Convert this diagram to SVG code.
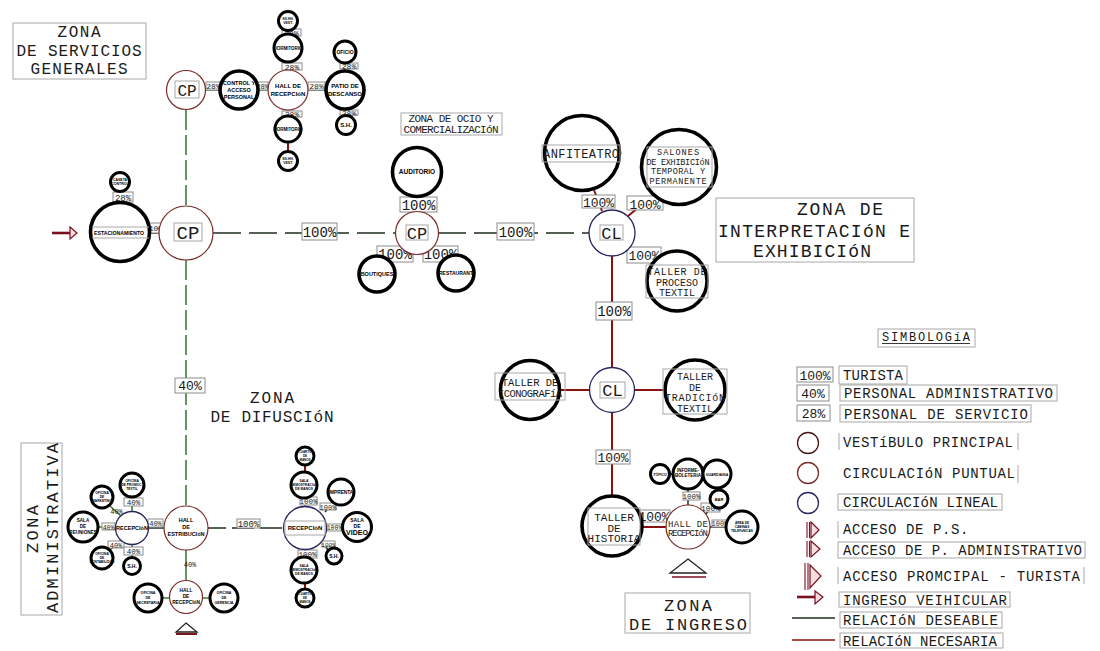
<svg xmlns="http://www.w3.org/2000/svg" width="1100" height="651" viewBox="0 0 1100 651">
<style>
.f{font-family:"Liberation Mono","DejaVu Sans Mono",monospace;fill:#1a1a1a}
.s{font-family:"Liberation Sans",Arial,sans-serif;font-weight:bold;fill:#000;text-anchor:middle}
.m{text-anchor:middle}
.bx{fill:none;stroke:#a8a8a8;stroke-width:1}
.pb{fill:#fff;stroke:#8c8c8c;stroke-width:1}
.tk{fill:#fff;stroke:#000;stroke-width:3.6}
.ts{fill:#fff;stroke:#000;stroke-width:3}
.cp{fill:#fff;stroke:#7b2a2a;stroke-width:1.2}
.cl{fill:#fff;stroke:#26265e;stroke-width:1.3}
.g{fill:none;stroke:#3a7d3a;stroke-width:1.6}
.r{fill:none;stroke:#8b1010;stroke-width:2}
.k{fill:none;stroke:#1c2e1c;stroke-width:1.5}
.d{stroke-dasharray:28,8}
.dg{stroke-dasharray:20,5}
.acc{fill:#f6dde3;stroke:#7a1020;stroke-width:1.2}
.tri{fill:#fff;stroke:#222;stroke-width:1.3}
</style>

<!-- zone labels -->
<g id="zona-servicios">
<rect class="bx" x="13" y="23" width="133" height="56"/>
<text class="f m" x="79" y="37" font-size="16" textLength="43">ZONA</text>
<text class="f m" x="79" y="56" font-size="16" textLength="125">DE SERVICIOS</text>
<text class="f m" x="79" y="74" font-size="16" textLength="97">GENERALES</text>
</g>
<g id="zona-ocio">
<rect class="bx" x="401" y="113" width="101" height="22"/>
<text class="f m" x="451" y="122" font-size="11" textLength="85">ZONA DE OCIO Y</text>
<text class="f m" x="451" y="133" font-size="11" textLength="95">COMERCIALIZACIóN</text>
</g>
<g id="zona-interpretacion">
<rect class="bx" x="716" y="198" width="198" height="64"/>
<text class="f m" x="840" y="215" font-size="18" textLength="86">ZONA DE</text>
<text class="f m" x="814" y="237" font-size="18" textLength="192">INTERPRETACIóN E</text>
<text class="f m" x="812" y="257" font-size="18" textLength="118">EXHIBICIóN</text>
</g>
<g id="zona-difusion">
<text class="f m" x="272" y="403" font-size="16" textLength="44">ZONA</text>
<text class="f m" x="272" y="422" font-size="16" textLength="123">DE DIFUSCIóN</text>
</g>
<g id="zona-administrativa">
<rect class="bx" x="21" y="443" width="41" height="172"/>
<text class="f m" transform="translate(38,529) rotate(-90)" font-size="17" textLength="48">ZONA</text>
<text class="f m" transform="translate(58,528) rotate(-90)" font-size="17" textLength="170">ADMINISTRATIVA</text>
</g>
<g id="zona-ingreso">
<rect class="bx" x="625" y="593" width="125" height="40"/>
<text class="f m" x="688" y="611" font-size="17" textLength="48">ZONA</text>
<text class="f m" x="688" y="630" font-size="17" textLength="118">DE INGRESO</text>
</g>

<!-- connectors -->
<g id="connectors">
<path class="g dg" d="M186 110V205"/>
<path class="g dg" d="M186 260V506"/>
<path class="g" d="M206 90H219M259 90H268M308 90H326M288 70V62M288 110V116M345 71V63M345 110V116"/>
<path class="g" d="M186 550V580M162 598H169M203 598H210M132 512V497M121 516L110 506M121 540L110 550M132 545V558M98 527H115"/>
<path class="k" d="M148 528H164"/>
<path class="r" d="M120 191V202M288 31V34M288 142V151"/>
<path class="r" d="M602 211L594 190M628 216L655 194M629 248L653 264M612 256V368M612 413V496M560 390H590M635 390H665M643 527H666M669 474H673M305 465V472M305 583V589"/>
<path class="k" d="M150 233H159M417 197V212M405 251L390 260M430 251L443 259"/>
<path class="k d" d="M213 233H395M438 233H589"/>
<path class="k" d="M208 528H226M232 528H283" stroke-dasharray="22,6"/>
<path class="k" d="M327 527H343M325 512L332 504M323 543L328 550M305 549V557M688 490V505M706 514L712 506M710 527H726"/>
<path class="g" d="M305 498V506"/>
<path d="M52 233H70" stroke="#7a1020" stroke-width="2.6" fill="none"/>
<polygon class="acc" points="70,227 77,233 70,239"/>
<!-- labels -->
<g class="f m">
<rect class="pb" x="206" y="82" width="15" height="8"/><text x="213.5" y="89" font-size="8">28%</text>
<rect class="pb" x="257" y="82" width="11" height="8"/><text x="262.5" y="89" font-size="7">28%</text>
<rect class="pb" x="308" y="82" width="17" height="8"/><text x="316.5" y="89" font-size="8">28%</text>
<rect class="pb" x="282" y="29" width="19" height="7"/><text x="291.5" y="35.5" font-size="8">28%</text>
<rect class="pb" x="282" y="63" width="20" height="7"/><text x="292" y="69.5" font-size="8">28%</text>
<rect class="pb" x="282" y="111" width="20" height="6"/><text x="292" y="117" font-size="8">28%</text>
<rect class="pb" x="340" y="63" width="18" height="6"/><text x="349" y="69" font-size="8">28%</text>
<rect class="pb" x="340" y="110" width="18" height="5"/><text x="349" y="115.5" font-size="8">28%</text>
<rect class="pb" x="113" y="192" width="20" height="10"/><text x="123" y="200.5" font-size="9">28%</text>
<rect class="pb" x="147" y="223" width="21" height="10"/><text x="158" y="231" font-size="8" textLength="18">100%</text>
<rect class="pb" x="302" y="223" width="35" height="17"/><text x="319.5" y="237" font-size="14">100%</text>
<rect class="pb" x="497" y="223" width="37" height="17"/><text x="515.5" y="237" font-size="14">100%</text>
<rect class="pb" x="400" y="197" width="37" height="15"/><text x="418.5" y="210" font-size="14">100%</text>
<rect class="pb" x="377" y="246" width="36" height="16"/><text x="395" y="259" font-size="14">100%</text>
<rect class="pb" x="423" y="246" width="35" height="16"/><text x="440.5" y="259" font-size="14">100%</text>
<rect class="pb" x="582" y="195" width="33" height="13"/><text x="598.5" y="207" font-size="13">100%</text>
<rect class="pb" x="627" y="196" width="36" height="14"/><text x="645" y="208.5" font-size="13">100%</text>
<rect class="pb" x="627" y="247" width="34" height="16"/><text x="644" y="260" font-size="13">100%</text>
<rect class="pb" x="596" y="302" width="36" height="18"/><text x="614" y="316" font-size="14">100%</text>
<rect class="pb" x="596" y="450" width="34" height="14"/><text x="613" y="462" font-size="13">100%</text>
<rect class="pb" x="638" y="510" width="32" height="12"/><text x="654" y="521" font-size="13">100%</text>
<rect class="pb" x="683" y="492" width="17" height="8"/><text x="691.5" y="499" font-size="7.5">100%</text>
<rect class="pb" x="701" y="503" width="19" height="9"/><text x="710.5" y="510.5" font-size="8">100%</text>
<rect class="pb" x="712" y="520" width="16" height="7"/><text x="720" y="526" font-size="7">100%</text>
<rect class="pb" x="175" y="378" width="30" height="15"/><text x="190" y="390" font-size="13">40%</text>
<rect class="pb" x="124" y="498" width="19" height="8"/><text x="133.5" y="505" font-size="7.5">40%</text>
<text x="116.5" y="514" font-size="7">40%</text>
<rect class="pb" x="102" y="523" width="13" height="7"/><text x="108.5" y="529.5" font-size="6.5">40%</text>
<rect class="pb" x="148" y="519" width="15" height="8"/><text x="155.5" y="526" font-size="7">40%</text>
<rect class="pb" x="108" y="541" width="16" height="7"/><text x="116" y="547.5" font-size="7">40%</text>
<rect class="pb" x="124" y="547" width="19" height="8"/><text x="133.5" y="554" font-size="7.5">40%</text>
<text x="190" y="567" font-size="7">40%</text>
<rect class="pb" x="237" y="519" width="23" height="9"/><text x="248.5" y="527" font-size="9">100%</text>
<rect class="pb" x="300" y="497" width="17" height="8"/><text x="308.5" y="504" font-size="7.5">100%</text>
<rect class="pb" x="320" y="503" width="16" height="7"/><text x="328" y="509.5" font-size="7">100%</text>
<rect class="pb" x="327" y="524" width="15" height="7"/><text x="334.5" y="530" font-size="6.5">100%</text>
<rect class="pb" x="322" y="541" width="13" height="6"/><text x="328.5" y="546.5" font-size="6">100%</text>
<rect class="pb" x="298" y="550" width="19" height="8"/><text x="307.5" y="557" font-size="7.5">100%</text>
</g>
</g>

<!-- services cluster -->
<g id="cp-servicios"><circle class="cp" cx="186" cy="90" r="19.5"/><rect class="bx" x="175" y="81" width="24" height="17"/><text class="f m" x="187" y="96" font-size="16">CP</text></g>
<g id="control-acceso"><circle class="tk" cx="239" cy="90" r="19"/><text class="s" font-size="5.5"><tspan x="239" y="85">CONTROL Y</tspan><tspan x="239" y="92">ACCESO</tspan><tspan x="239" y="99">PERSONAL</tspan></text></g>
<g id="hall-servicios"><circle class="cp" cx="288" cy="90" r="20"/><text class="s" font-size="6"><tspan x="288" y="88">HALL DE</tspan><tspan x="288" y="96">RECEPCIóN</tspan></text></g>
<g id="patio-descanso"><circle class="tk" cx="345" cy="90" r="19"/><text class="s" font-size="6"><tspan x="345" y="88">PATIO DE</tspan><tspan x="345" y="96">DESCANSO</tspan></text></g>
<g id="dormitorio-1"><circle class="ts" cx="288" cy="48" r="14"/><text class="s" x="288" y="50" font-size="4.5">DORMITORIO</text></g>
<g id="ss-1"><circle class="ts" cx="288" cy="21" r="9.5"/><text class="s" font-size="3.5"><tspan x="288" y="20">SS.HH.</tspan><tspan x="288" y="24">VEST.</tspan></text></g>
<g id="dormitorio-2"><circle class="ts" cx="288" cy="129" r="13"/><text class="s" x="288" y="131" font-size="4.5">DORMITORIO</text></g>
<g id="ss-2"><circle class="ts" cx="288" cy="161" r="9.5"/><text class="s" font-size="3.5"><tspan x="288" y="160">SS.HH.</tspan><tspan x="288" y="164">VEST.</tspan></text></g>
<g id="oficio"><circle class="ts" cx="345" cy="52" r="11"/><text class="s" x="345" y="54" font-size="5">OFICIO</text></g>
<g id="sh-servicios"><circle class="ts" cx="346" cy="125" r="9.5"/><text class="s" x="346" y="127" font-size="6">S.H.</text></g>

<!-- estacionamiento -->
<g id="caseta"><circle class="ts" cx="120" cy="182" r="9.5"/><text class="s" font-size="3.5"><tspan x="120" y="181">CASETA</tspan><tspan x="120" y="185">CONTROL</tspan></text></g>
<g id="estacionamiento"><circle class="tk" cx="120" cy="232" r="29.5"/><path class="bx" d="M92 227H149M92 238H149"/><text class="s" x="119" y="235" font-size="6" textLength="50" lengthAdjust="spacingAndGlyphs">ESTACIONAMIENTO</text></g>
<g id="cp-principal"><circle class="cp" cx="186" cy="233" r="27"/><rect class="bx" x="174" y="223" width="28" height="18"/><text class="f m" x="188" y="239" font-size="19">CP</text></g>

<!-- ocio -->
<g id="cp-ocio"><circle class="cp" cx="417" cy="233" r="21.5"/><rect class="bx" x="406" y="225" width="22" height="15"/><text class="f m" x="417" y="239" font-size="17">CP</text></g>
<g id="auditorio"><circle class="tk" cx="417" cy="172" r="24.5"/><text class="s" x="417" y="174" font-size="6.5">AUDITORIO</text></g>
<g id="boutiques"><circle class="tk" cx="377" cy="274" r="18"/><text class="s" x="377" y="276" font-size="5.5">BOUTIQUES</text></g>
<g id="restaurant"><circle class="tk" cx="456" cy="273" r="18"/><text class="s" x="456" y="275" font-size="5">RESTAURANT</text></g>

<!-- interpretacion -->
<g id="cl-interpretacion"><circle class="cl" cx="612" cy="233" r="23"/><rect class="bx" x="600" y="225" width="23" height="15"/><text class="f m" x="611.5" y="239" font-size="17">CL</text></g>
<g id="anfiteatro"><circle class="tk" cx="582" cy="153" r="37.5"/><rect class="bx" x="542" y="145" width="78" height="17"/><text class="f m" x="581" y="158" font-size="12" textLength="76">ANFITEATRO</text></g>
<g id="salones"><circle class="tk" cx="679" cy="167" r="37.5"/><rect class="bx" x="647" y="147" width="65" height="40"/><text class="f m" font-size="8.5"><tspan x="678" y="155" textLength="42">SALONES</tspan><tspan x="678" y="164.5" textLength="63">DE EXHIBICIóN</tspan><tspan x="678" y="174" textLength="54">TEMPORAL Y</tspan><tspan x="678" y="183.5" textLength="57">PERMANENTE</tspan></text></g>
<g id="taller-proceso"><circle class="tk" cx="677" cy="281" r="30"/><rect class="bx" x="646" y="265" width="62" height="33"/><text class="f m" font-size="10"><tspan x="677" y="275" textLength="59">TALLER DE</tspan><tspan x="677" y="285.5">PROCESO</tspan><tspan x="677" y="296">TEXTIL</tspan></text></g>
<g id="cl-talleres"><circle class="cl" cx="612" cy="390" r="22.5"/><rect class="bx" x="600" y="382" width="25" height="16"/><text class="f m" x="612.5" y="396" font-size="17">CL</text></g>
<g id="taller-iconografia"><circle class="tk" cx="530" cy="390" r="29.5"/><rect class="bx" x="495" y="373" width="70" height="27"/><text class="f m" font-size="10.5"><tspan x="530" y="386">TALLER DE</tspan><tspan x="530" y="397" textLength="64">ICONOGRAFíA</tspan></text></g>
<g id="taller-tradicion"><circle class="tk" cx="695" cy="390" r="30"/><rect class="bx" x="663" y="369" width="64" height="45"/><text class="f m" font-size="10"><tspan x="695" y="380">TALLER</tspan><tspan x="695" y="390.5">DE</tspan><tspan x="695" y="401" textLength="60">TRADICIóN</tspan><tspan x="695" y="411.5">TEXTIL</tspan></text></g>

<!-- ingreso -->
<g id="taller-historia"><circle class="tk" cx="612" cy="526" r="30"/><rect class="bx" x="588" y="508" width="52" height="37"/><text class="f m" font-size="11"><tspan x="614" y="521">TALLER</tspan><tspan x="614" y="531.5">DE</tspan><tspan x="614" y="542">HISTORIA</tspan></text></g>
<g id="hall-ingreso"><circle class="cp" cx="688" cy="527" r="22"/><text class="f m" font-size="9"><tspan x="688" y="527" textLength="40">HALL DE</tspan><tspan x="688" y="536" textLength="40">RECEPCIóN</tspan></text></g>
<g id="informes"><circle class="ts" cx="688" cy="474" r="15"/><text class="s" font-size="4.5"><tspan x="688" y="472">INFORME-</tspan><tspan x="688" y="477">BOLETERíA</tspan></text></g>
<g id="topico"><circle class="ts" cx="660" cy="474" r="9.5"/><text class="s" x="660" y="475.5" font-size="3.5">TÓPICO</text></g>
<g id="guardiania"><circle class="ts" cx="717" cy="474" r="14"/><text class="s" x="717" y="475.5" font-size="3.5">GUARDIANíA</text></g>
<g id="bar"><circle class="ts" cx="719" cy="499" r="9"/><text class="s" x="719" y="500.5" font-size="4">BAR</text></g>
<g id="area-espera"><circle class="ts" cx="742" cy="527" r="16"/><text class="s" font-size="3.2"><tspan x="742" y="524">ÁREA DE</tspan><tspan x="742" y="528">CABINAS</tspan><tspan x="742" y="532">TELEFóNICAS</tspan></text></g>
<g id="acceso-turista"><polygon class="tri" points="688,559 706,573 670,573"/><path d="M672 577H706" stroke="#7a1020" stroke-width="1.5"/></g>

<!-- administrativa -->
<g id="hall-estribucion"><circle class="cp" cx="186" cy="528" r="22"/><text class="s" font-size="5.5"><tspan x="186" y="522">HALL</tspan><tspan x="186" y="529">DE</tspan><tspan x="186" y="536">ESTRIBUCIóN</tspan></text></g>
<g id="recepcion-admin"><circle class="cl" cx="132" cy="528" r="16.5"/><text class="s" x="132" y="530" font-size="5.5">RECEPCIóN</text></g>
<g id="sala-reuniones"><circle class="ts" cx="83" cy="527" r="15"/><text class="s" font-size="4.6"><tspan x="83" y="522">SALA</tspan><tspan x="83" y="528">DE</tspan><tspan x="83" y="534">REUNIONES</tspan></text></g>
<g id="oficina-1"><circle class="ts" cx="132" cy="485" r="12"/><text class="s" font-size="3.3"><tspan x="132" y="482">OFICINA</tspan><tspan x="132" y="486">DE PROMOC.</tspan><tspan x="132" y="490">TEXTIL</tspan></text></g>
<g id="oficina-2"><circle class="ts" cx="102" cy="497" r="11"/><text class="s" font-size="3.3"><tspan x="102" y="494">OFICINA</tspan><tspan x="102" y="498">DE</tspan><tspan x="102" y="502">MARKETING</tspan></text></g>
<g id="oficina-3"><circle class="ts" cx="102" cy="558" r="11"/><text class="s" font-size="3.3"><tspan x="102" y="555">OFICINA</tspan><tspan x="102" y="559">DE</tspan><tspan x="102" y="563">CONTABILIDAD</tspan></text></g>
<g id="sh-admin"><circle class="ts" cx="132" cy="566" r="8.5"/><text class="s" x="132" y="568" font-size="5">S.H.</text></g>
<g id="hall-recepcion-admin"><circle class="cp" cx="186" cy="597" r="16.5"/><text class="s" font-size="4.8"><tspan x="186" y="592">HALL</tspan><tspan x="186" y="598">DE</tspan><tspan x="186" y="604">RECEPCIóN</tspan></text></g>
<g id="oficina-secretaria"><circle class="ts" cx="148" cy="598" r="14"/><text class="s" font-size="3.6"><tspan x="148" y="594">OFICINA</tspan><tspan x="148" y="599">DE</tspan><tspan x="148" y="604">SECRETARíA</tspan></text></g>
<g id="oficina-gerencia"><circle class="ts" cx="224" cy="598" r="14"/><text class="s" font-size="3.6"><tspan x="224" y="594">OFICINA</tspan><tspan x="224" y="599">DE</tspan><tspan x="224" y="604">GERENCIA</tspan></text></g>
<g id="acceso-admin"><polygon class="tri" points="186,623 197,632 176,632"/><path d="M176 634H197" stroke="#7a1020" stroke-width="2"/></g>

<!-- difusion -->
<g id="recepcion-difusion"><circle class="cl" cx="305" cy="528" r="21.5"/><rect class="bx" x="285" y="521" width="40" height="14"/><text class="s" x="305" y="530" font-size="6">RECEPCIóN</text></g>
<g id="sala-video"><circle class="ts" cx="357" cy="527" r="14.5"/><text class="s" font-size="5"><tspan x="357" y="522">SALA</tspan><tspan x="357" y="528">DE</tspan><tspan x="357" y="535" font-size="7">VIDEO</tspan></text></g>
<g id="sala-demostracion-1"><circle class="ts" cx="304" cy="485" r="13"/><text class="s" font-size="3.3"><tspan x="304" y="482">SALA</tspan><tspan x="304" y="486">DEMOSTRACIóN</tspan><tspan x="304" y="490">DE MANOS</tspan></text></g>
<g id="deposito-1"><circle class="ts" cx="305" cy="456" r="9"/><text class="s" font-size="3"><tspan x="305" y="453">CUARTO</tspan><tspan x="305" y="457">DE</tspan><tspan x="305" y="461">MANOS</tspan></text></g>
<g id="imprenta"><circle class="ts" cx="341" cy="492" r="13"/><text class="s" x="341" y="494" font-size="4.8">IMPRENTA</text></g>
<g id="sh-difusion"><circle class="ts" cx="334" cy="556" r="8"/><text class="s" x="334" y="558" font-size="5">S.H.</text></g>
<g id="sala-demostracion-2"><circle class="ts" cx="304" cy="570" r="13"/><text class="s" font-size="3.3"><tspan x="304" y="567">SALA</tspan><tspan x="304" y="571">DEMOSTRACIóN</tspan><tspan x="304" y="575">DE MANOS</tspan></text></g>
<g id="deposito-2"><circle class="ts" cx="305" cy="598" r="9"/><text class="s" font-size="3"><tspan x="305" y="595">CUARTO</tspan><tspan x="305" y="599">DE</tspan><tspan x="305" y="603">MANOS</tspan></text></g>

<!-- legend -->
<g id="simbologia" class="f">
<rect class="bx" x="878" y="329" width="97" height="18"/>
<text x="882" y="341" font-size="12" textLength="88">SIMBOLOGíA</text>
<path d="M882 343.5H970" stroke="#222" stroke-width="0.9"/>
<rect class="pb" x="797" y="367" width="36" height="15"/><text class="m" x="815" y="380" font-size="13">100%</text>
<rect class="bx" x="839" y="366" width="68" height="18"/><text x="843" y="380" font-size="14" textLength="60">TURISTA</text>
<rect class="pb" x="797" y="385" width="32" height="16"/><text class="m" x="813" y="398" font-size="13">40%</text>
<rect class="bx" x="840" y="385" width="217" height="16"/><text x="844" y="398" font-size="14" textLength="209">PERSONAL ADMINISTRATIVO</text>
<rect class="pb" x="797" y="405" width="33" height="16"/><text class="m" x="813.5" y="418" font-size="13">28%</text>
<rect class="bx" x="840" y="405" width="191" height="17"/><text x="844" y="419" font-size="14" textLength="184">PERSONAL DE SERVICIO</text>
<circle cx="808" cy="443" r="10.5" fill="none" stroke="#4a1a1a" stroke-width="1.3"/>
<path class="bx" d="M839 433V450M1018 433V450"/><text x="843" y="447" font-size="14" textLength="170">VESTíBULO PRINCIPAL</text>
<circle cx="808" cy="473" r="10.5" fill="none" stroke="#7b2a2a" stroke-width="1.3"/>
<path class="bx" d="M1018 465V483"/><text x="843" y="478" font-size="14" textLength="172">CIRCULACIóN PUNTUAL</text>
<circle cx="808" cy="503" r="10.5" fill="none" stroke="#26265e" stroke-width="1.3"/>
<rect class="bx" x="838" y="494" width="164" height="16"/><text x="843" y="507" font-size="14" textLength="155">CIRCULACIóN LINEAL</text>
<path d="M807 522V538M809.5 522V538" stroke="#7a1020" stroke-width="1.1"/><polygon class="acc" points="811,522 819,530 811,538"/>
<path class="bx" d="M838 521V538"/><text x="843" y="534" font-size="14" letter-spacing="0.6">ACCESO DE P.S.</text>
<path d="M807 541V557M809.5 541V557" stroke="#7a1020" stroke-width="1.1"/><polygon class="acc" points="811,541 820,549 811,557"/>
<rect class="bx" x="838" y="542" width="247" height="16"/><text x="843" y="555" font-size="14" textLength="239">ACCESO DE P. ADMINISTRATIVO</text>
<path d="M805 563V590M808 563V590" stroke="#7a1020" stroke-width="1.1"/><polygon class="acc" points="810,565 821,576 810,588"/>
<path class="bx" d="M838 567V584M1084 567V584"/><text x="843" y="581" font-size="14" textLength="237">ACCESO PROMCIPAL - TURISTA</text>
<path d="M797 597H815" stroke="#7a1020" stroke-width="2.6"/><polygon class="acc" points="815,591 823,597 815,604"/>
<rect class="bx" x="839" y="592" width="171" height="15"/><text x="843" y="605" font-size="14" textLength="164">INGRESO VEIHICULAR</text>
<path d="M792 618H835" stroke="#1c2e1c" stroke-width="1.5"/>
<rect class="bx" x="840" y="612" width="162" height="16"/><text x="843" y="625" font-size="14" textLength="155">RELACIóN DESEABLE</text>
<path d="M792 640H835" stroke="#8b1010" stroke-width="1.5"/>
<rect class="bx" x="840" y="633" width="163" height="15"/><text x="843" y="646" font-size="14" textLength="154">RELACIóN NECESARIA</text>
</g>
</svg>
